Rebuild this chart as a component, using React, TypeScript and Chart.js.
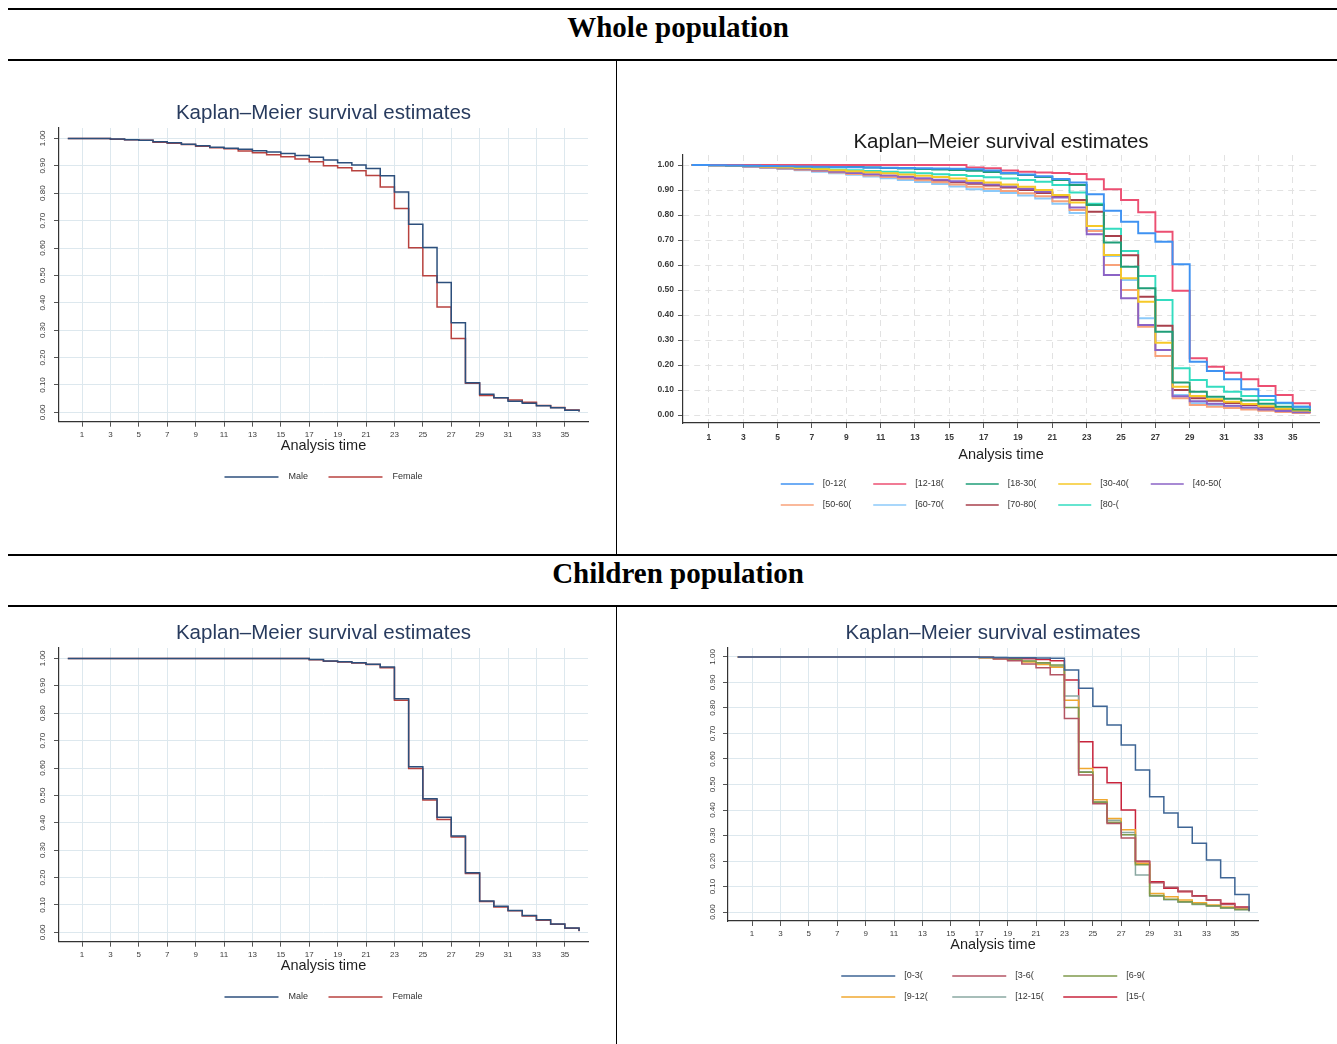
import React, { useEffect, useRef } from 'react';
import { Chart, registerables } from 'chart.js';

Chart.register(...registerables);

// ---------- data ----------
const times = [0, 1, 2, 3, 4, 5, 6, 7, 8, 9, 10, 11, 12, 13, 14, 15, 16, 17, 18, 19, 20, 21, 22, 23, 24, 25, 26, 27, 28, 29, 30, 31, 32, 33, 34, 35, 36];
const xTicks = [1, 3, 5, 7, 9, 11, 13, 15, 17, 19, 21, 23, 25, 27, 29, 31, 33, 35];
const yTicks = [0, 0.1, 0.2, 0.3, 0.4, 0.5, 0.6, 0.7, 0.8, 0.9, 1.0];
const yTickLabels = ['0.00', '0.10', '0.20', '0.30', '0.40', '0.50', '0.60', '0.70', '0.80', '0.90', '1.00'];

const chartTitle = 'Kaplan\u2013Meier survival estimates';
const xAxisTitle = 'Analysis time';

// Whole population by sex
const wholeMale = [1, 1, 1, 0.998, 0.995, 0.993, 0.988, 0.984, 0.979, 0.973, 0.968, 0.964, 0.96, 0.955, 0.95, 0.945, 0.938, 0.931, 0.921, 0.911, 0.903, 0.89, 0.864, 0.804, 0.687, 0.602, 0.474, 0.327, 0.108, 0.066, 0.053, 0.041, 0.033, 0.024, 0.017, 0.008, 0.003];
const wholeFemale = [1, 1, 1, 0.997, 0.995, 0.993, 0.986, 0.982, 0.978, 0.971, 0.966, 0.962, 0.954, 0.948, 0.94, 0.933, 0.925, 0.915, 0.9, 0.893, 0.882, 0.865, 0.823, 0.744, 0.601, 0.499, 0.385, 0.27, 0.106, 0.062, 0.053, 0.045, 0.037, 0.025, 0.018, 0.009, 0.003];

// Whole population by age group
const age0to12 = [1, 0.999, 0.998, 0.997, 0.996, 0.995, 0.994, 0.993, 0.992, 0.991, 0.99, 0.989, 0.988, 0.987, 0.986, 0.985, 0.983, 0.978, 0.968, 0.962, 0.955, 0.944, 0.93, 0.883, 0.817, 0.773, 0.727, 0.693, 0.603, 0.213, 0.176, 0.143, 0.103, 0.076, 0.049, 0.033, 0.025];
const age12to18 = [1, 1, 1, 1, 1, 1, 1, 1, 1, 1, 1, 1, 1, 1, 1, 1, 0.99, 0.987, 0.978, 0.973, 0.97, 0.968, 0.964, 0.943, 0.903, 0.86, 0.811, 0.733, 0.497, 0.227, 0.193, 0.169, 0.143, 0.116, 0.08, 0.047, 0.03];
const age18to30 = [1, 1, 0.999, 0.998, 0.997, 0.996, 0.995, 0.994, 0.993, 0.992, 0.99, 0.988, 0.986, 0.984, 0.982, 0.98, 0.977, 0.972, 0.966, 0.96, 0.952, 0.94, 0.92, 0.84, 0.69, 0.593, 0.507, 0.333, 0.13, 0.093, 0.073, 0.065, 0.058, 0.045, 0.033, 0.022, 0.015];
const age30to40 = [1, 0.999, 0.998, 0.996, 0.993, 0.99, 0.987, 0.983, 0.979, 0.975, 0.971, 0.967, 0.962, 0.957, 0.952, 0.946, 0.937, 0.93, 0.922, 0.913, 0.9, 0.88, 0.85, 0.756, 0.64, 0.547, 0.453, 0.289, 0.113, 0.076, 0.063, 0.053, 0.044, 0.035, 0.025, 0.018, 0.012];
const age40to50 = [1, 0.999, 0.997, 0.995, 0.991, 0.987, 0.983, 0.978, 0.973, 0.968, 0.963, 0.958, 0.953, 0.947, 0.941, 0.935, 0.929, 0.922, 0.914, 0.905, 0.893, 0.87, 0.83, 0.723, 0.56, 0.467, 0.36, 0.26, 0.075, 0.055, 0.045, 0.037, 0.03, 0.022, 0.016, 0.011, 0.008];
const age50to60 = [1, 0.999, 0.997, 0.994, 0.99, 0.986, 0.981, 0.976, 0.97, 0.964, 0.958, 0.952, 0.946, 0.939, 0.931, 0.922, 0.913, 0.905, 0.896, 0.887, 0.875, 0.855, 0.82, 0.736, 0.6, 0.5, 0.353, 0.236, 0.067, 0.04, 0.033, 0.028, 0.022, 0.017, 0.012, 0.008, 0.005];
const age60to70 = [1, 0.999, 0.996, 0.993, 0.989, 0.984, 0.979, 0.973, 0.967, 0.961, 0.954, 0.947, 0.94, 0.932, 0.924, 0.914, 0.903, 0.896, 0.888, 0.878, 0.866, 0.845, 0.808, 0.74, 0.636, 0.54, 0.387, 0.26, 0.08, 0.047, 0.04, 0.033, 0.027, 0.02, 0.015, 0.01, 0.007];
const age70to80 = [1, 0.999, 0.997, 0.994, 0.99, 0.986, 0.981, 0.976, 0.971, 0.966, 0.96, 0.955, 0.949, 0.943, 0.937, 0.931, 0.925, 0.918, 0.91, 0.9, 0.888, 0.872, 0.86, 0.813, 0.716, 0.639, 0.473, 0.357, 0.1, 0.067, 0.057, 0.048, 0.04, 0.03, 0.022, 0.016, 0.012];
const age80plus = [1, 0.999, 0.997, 0.995, 0.993, 0.99, 0.988, 0.985, 0.982, 0.979, 0.976, 0.973, 0.97, 0.967, 0.963, 0.96, 0.956, 0.951, 0.946, 0.94, 0.933, 0.92, 0.89, 0.845, 0.745, 0.656, 0.556, 0.46, 0.187, 0.14, 0.113, 0.093, 0.076, 0.06, 0.047, 0.033, 0.025];

// Children population by sex
const childMale = [1, 1, 1, 1, 1, 1, 1, 1, 1, 1, 1, 1, 1, 1, 1, 1, 1, 0.996, 0.991, 0.988, 0.984, 0.979, 0.969, 0.853, 0.605, 0.488, 0.42, 0.352, 0.218, 0.115, 0.095, 0.08, 0.062, 0.046, 0.031, 0.016, 0.005];
const childFemale = [1, 1, 1, 1, 1, 1, 1, 1, 1, 1, 1, 1, 1, 1, 1, 1, 1, 0.995, 0.99, 0.987, 0.983, 0.978, 0.966, 0.847, 0.598, 0.483, 0.412, 0.348, 0.215, 0.113, 0.093, 0.079, 0.06, 0.044, 0.03, 0.015, 0.004];

// Children population by age group
const child0to3 = [1, 1, 1, 1, 1, 1, 1, 1, 1, 1, 1, 1, 1, 1, 1, 1, 1, 0.999, 0.998, 0.997, 0.997, 0.996, 0.995, 0.949, 0.877, 0.807, 0.733, 0.655, 0.557, 0.452, 0.388, 0.332, 0.27, 0.204, 0.135, 0.069, 0.005];
const child3to6 = [1, 1, 1, 1, 1, 1, 1, 1, 1, 1, 1, 1, 1, 1, 1, 1, 1, 0.998, 0.992, 0.985, 0.972, 0.958, 0.93, 0.759, 0.537, 0.425, 0.347, 0.29, 0.2, 0.115, 0.097, 0.083, 0.062, 0.047, 0.03, 0.018, 0.005];
const child6to9 = [1, 1, 1, 1, 1, 1, 1, 1, 1, 1, 1, 1, 1, 1, 1, 1, 1, 0.998, 0.995, 0.99, 0.984, 0.977, 0.968, 0.802, 0.548, 0.43, 0.352, 0.303, 0.185, 0.065, 0.05, 0.04, 0.032, 0.025, 0.017, 0.01, 0.003];
const child9to12 = [1, 1, 1, 1, 1, 1, 1, 1, 1, 1, 1, 1, 1, 1, 1, 1, 1, 0.997, 0.993, 0.987, 0.98, 0.97, 0.96, 0.83, 0.563, 0.44, 0.367, 0.323, 0.19, 0.073, 0.06, 0.047, 0.037, 0.028, 0.02, 0.012, 0.004];
const child12to15 = [1, 1, 1, 1, 1, 1, 1, 1, 1, 1, 1, 1, 1, 1, 1, 1, 1, 0.998, 0.994, 0.989, 0.983, 0.975, 0.963, 0.847, 0.55, 0.432, 0.36, 0.312, 0.145, 0.062, 0.048, 0.038, 0.03, 0.023, 0.015, 0.009, 0.002];
const child15plus = [1, 1, 1, 1, 1, 1, 1, 1, 1, 1, 1, 1, 1, 1, 1, 1, 1, 0.999, 0.997, 0.995, 0.993, 0.99, 0.985, 0.91, 0.668, 0.567, 0.507, 0.4, 0.197, 0.119, 0.093, 0.08, 0.064, 0.047, 0.034, 0.02, 0.005];

const sexLabels = ['Male', 'Female'];
const sexColors = ['#2c4f7c', '#b8423f'];
const ageLabels = ['[0-12(', '[12-18(', '[18-30(', '[30-40(', '[40-50(', '[50-60(', '[60-70(', '[70-80(', '[80-('];
const ageColors = ['#3f92f2', '#ec4f72', '#1f9e78', '#f6c928', '#8b63c6', '#f8a27a', '#8ccafa', '#a8404c', '#33dcc0'];
const childAgeLabels = ['[0-3(', '[3-6(', '[6-9(', '[9-12(', '[12-15(', '[15-('];
const childAgeColors = ['#3e6595', '#b45564', '#7f9a4c', '#f0a830', '#8aa8a2', '#c8243c'];

// ---------- helpers ----------
const FONT = '"Liberation Sans", Arial, Helvetica, sans-serif';

type Series = { label: string; color: string; values: number[] };
type Panel = {
  x: number; y: number; w: number; h: number;
  left: number; top: number; right: number; bottom: number;
  xMin: number; xMax: number; yMin: number; yMax: number;
  yRotated: boolean; yPad: number; xPad: number;
  tickBold: boolean; tickSize: number; lineWidth: number;
  gridColor: string; gridDash: number[];
  titleColor: string; titleY: number; xTitleY: number;
  legendRows: number[]; legendCols: number; legendPitch: number; legendLine: number; legendGap: number;
  series: Series[];
};

const XH = 30;

function makeDecor(p: Panel) {
  return {
    id: 'kmDecor',
    afterDraw(chart: any) {
      const { ctx, chartArea } = chart;
      const cx = (chartArea.left + chartArea.right) / 2;
      ctx.save();
      ctx.textAlign = 'center';
      ctx.textBaseline = 'middle';
      ctx.fillStyle = p.titleColor;
      ctx.font = `20.5px ${FONT}`;
      ctx.fillText(chartTitle, cx, p.titleY - p.y);
      ctx.fillStyle = '#1e1e1e';
      ctx.font = `14.5px ${FONT}`;
      ctx.fillText(xAxisTitle, cx, p.xTitleY - p.y);
      // legend
      ctx.font = `9px ${FONT}`;
      const n = p.series.length;
      let lastW = 0;
      p.series.forEach((s, i) => {
        if (i % p.legendCols === p.legendCols - 1 || (i === n - 1 && n < p.legendCols)) {
          lastW = Math.max(lastW, ctx.measureText(s.label).width);
        }
      });
      const cols = Math.min(p.legendCols, n);
      const totalW = (cols - 1) * p.legendPitch + p.legendLine + p.legendGap + lastW;
      const x0 = cx - totalW / 2;
      ctx.textAlign = 'left';
      p.series.forEach((s, i) => {
        const col = i % p.legendCols;
        const row = Math.floor(i / p.legendCols);
        const lx = x0 + col * p.legendPitch;
        const ly = p.legendRows[row] - p.y;
        ctx.strokeStyle = s.color;
        ctx.lineWidth = 1.5;
        ctx.beginPath();
        ctx.moveTo(lx, ly);
        ctx.lineTo(lx + p.legendLine, ly);
        ctx.stroke();
        ctx.fillStyle = '#333';
        ctx.fillText(s.label, lx + p.legendLine + p.legendGap, ly);
      });
      ctx.restore();
    },
  };
}

function buildConfig(p: Panel): any {
  const tickFont = { family: FONT, size: p.tickSize, weight: p.tickBold ? 'bold' : 'normal' };
  const areaLeft = p.left - p.x;
  const areaTop = p.top - p.y;
  const areaRight = p.right - p.x;
  const areaBottom = p.bottom - p.y;
  return {
    type: 'line',
    data: {
      datasets: p.series.map((s) => ({
        label: s.label,
        data: times.map((t, i) => ({ x: t, y: s.values[i] })),
        borderColor: s.color,
        backgroundColor: s.color,
        borderWidth: p.lineWidth,
        pointRadius: 0,
        stepped: true,
        fill: false,
        tension: 0,
      })),
    },
    options: {
      responsive: false,
      animation: false,
      devicePixelRatio: 1,
      events: [],
      layout: {
        padding: { left: 0, top: areaTop, right: p.w - areaRight, bottom: p.h - areaBottom - XH },
      },
      plugins: {
        legend: { display: false },
        title: { display: false },
        tooltip: { enabled: false },
      },
      scales: {
        x: {
          type: 'linear',
          min: p.xMin,
          max: p.xMax,
          afterBuildTicks: (s: any) => { s.ticks = xTicks.map((v) => ({ value: v })); },
          afterFit: (s: any) => { s.height = XH; },
          ticks: { font: tickFont, color: '#3a3a3a', padding: p.xPad, autoSkip: false, maxRotation: 0, minRotation: 0 },
          grid: { color: p.gridColor, lineWidth: 1, tickColor: '#555', tickLength: 5, tickWidth: 1 },
          border: { display: true, color: '#333', width: 1.2, dash: p.gridDash },
        },
        y: {
          type: 'linear',
          min: p.yMin,
          max: p.yMax,
          afterBuildTicks: (s: any) => { s.ticks = yTicks.map((v) => ({ value: v })); },
          afterFit: (s: any) => { s.width = areaLeft; },
          ticks: {
            font: tickFont,
            color: '#3a3a3a',
            padding: p.yPad,
            autoSkip: false,
            minRotation: p.yRotated ? 90 : 0,
            maxRotation: p.yRotated ? 90 : 0,
            crossAlign: p.yRotated ? 'center' : 'near',
            callback: (_v: any, idx: number) => yTickLabels[idx],
          },
          grid: { color: p.gridColor, lineWidth: 1, tickColor: '#555', tickLength: 5, tickWidth: 1 },
          border: { display: true, color: '#333', width: 1.2, dash: p.gridDash },
        },
      },
    },
    plugins: [makeDecor(p)],
  };
}

const toSeries = (labels: string[], colors: string[], values: number[][]): Series[] =>
  labels.map((label, i) => ({ label, color: colors[i], values: values[i] }));

const panels: Panel[] = [
  {
    x: 10, y: 62, w: 604, h: 490,
    left: 59, top: 128, right: 588, bottom: 421.7,
    xMin: -0.62, xMax: 36.63, yMin: -0.034, yMax: 1.038,
    yRotated: true, yPad: 3, xPad: 3, tickBold: false, tickSize: 8, lineWidth: 1.5,
    gridColor: '#dde8ee', gridDash: [],
    titleColor: '#283b5e', titleY: 113, xTitleY: 446,
    legendRows: [477], legendCols: 2, legendPitch: 104, legendLine: 54, legendGap: 10,
    series: toSeries(sexLabels, sexColors, [wholeMale, wholeFemale]),
  },
  {
    x: 619, y: 62, w: 716, h: 490,
    left: 683, top: 155, right: 1319, bottom: 423,
    xMin: -0.51, xMax: 36.53, yMin: -0.032, yMax: 1.04,
    yRotated: false, yPad: 4, xPad: 5, tickBold: true, tickSize: 8.5, lineWidth: 1.9,
    gridColor: '#e2e2e2', gridDash: [6, 5],
    titleColor: '#1a1a1a', titleY: 142, xTitleY: 455,
    legendRows: [484, 505], legendCols: 5, legendPitch: 92.5, legendLine: 33, legendGap: 9,
    series: toSeries(ageLabels, ageColors, [age0to12, age12to18, age18to30, age30to40, age40to50, age50to60, age60to70, age70to80, age80plus]),
  },
  {
    x: 10, y: 608, w: 604, h: 436,
    left: 59, top: 648, right: 588, bottom: 941.7,
    xMin: -0.62, xMax: 36.63, yMin: -0.034, yMax: 1.038,
    yRotated: true, yPad: 3, xPad: 3, tickBold: false, tickSize: 8, lineWidth: 1.5,
    gridColor: '#dde8ee', gridDash: [],
    titleColor: '#283b5e', titleY: 633, xTitleY: 966,
    legendRows: [997], legendCols: 2, legendPitch: 104, legendLine: 54, legendGap: 10,
    series: toSeries(sexLabels, sexColors, [childMale, childFemale]),
  },
  {
    x: 619, y: 608, w: 716, h: 436,
    left: 728, top: 648, right: 1258, bottom: 921,
    xMin: -0.69, xMax: 36.63, yMin: -0.035, yMax: 1.035,
    yRotated: true, yPad: 2, xPad: 3, tickBold: false, tickSize: 8, lineWidth: 1.5,
    gridColor: '#dde8ee', gridDash: [],
    titleColor: '#283b5e', titleY: 633, xTitleY: 945,
    legendRows: [976, 997], legendCols: 3, legendPitch: 111, legendLine: 54, legendGap: 9,
    series: toSeries(childAgeLabels, childAgeColors, [child0to3, child3to6, child6to9, child9to12, child12to15, child15plus]),
  },
];

function KMChart({ p }: { p: Panel }) {
  const ref = useRef<HTMLCanvasElement>(null);
  useEffect(() => {
    if (!ref.current) return;
    const chart = new Chart(ref.current, buildConfig(p));
    return () => chart.destroy();
  }, [p]);
  return (
    <canvas
      ref={ref}
      width={p.w}
      height={p.h}
      style={{ position: 'absolute', left: p.x, top: p.y, width: p.w, height: p.h }}
    />
  );
}

const rule = (top: number, height: number): React.CSSProperties => ({
  position: 'absolute', left: 8, width: 1329, top, height, background: '#000',
});
const vrule = (top: number, height: number): React.CSSProperties => ({
  position: 'absolute', left: 616, width: 1, top, height, background: '#000',
});
const headerStyle = (top: number): React.CSSProperties => ({
  position: 'absolute', left: 13, width: 1330, top, height: 30, lineHeight: '30px',
  textAlign: 'center', fontFamily: '"Liberation Serif", "Times New Roman", serif',
  fontWeight: 'bold', fontSize: 29, color: '#000',
});

export default function App() {
  return (
    <div style={{ position: 'fixed', left: 0, top: 0, width: 1337, height: 1044, background: '#fff', overflow: 'hidden' }}>
      <div style={rule(8, 2)} />
      <div style={headerStyle(12)}>Whole population</div>
      <div style={rule(59, 2)} />
      <div style={vrule(61, 494)} />
      <div style={rule(554, 2)} />
      <div style={headerStyle(558)}>Children population</div>
      <div style={rule(605, 2)} />
      <div style={vrule(607, 437)} />
      {panels.map((p, i) => <KMChart key={i} p={p} />)}
    </div>
  );
}
